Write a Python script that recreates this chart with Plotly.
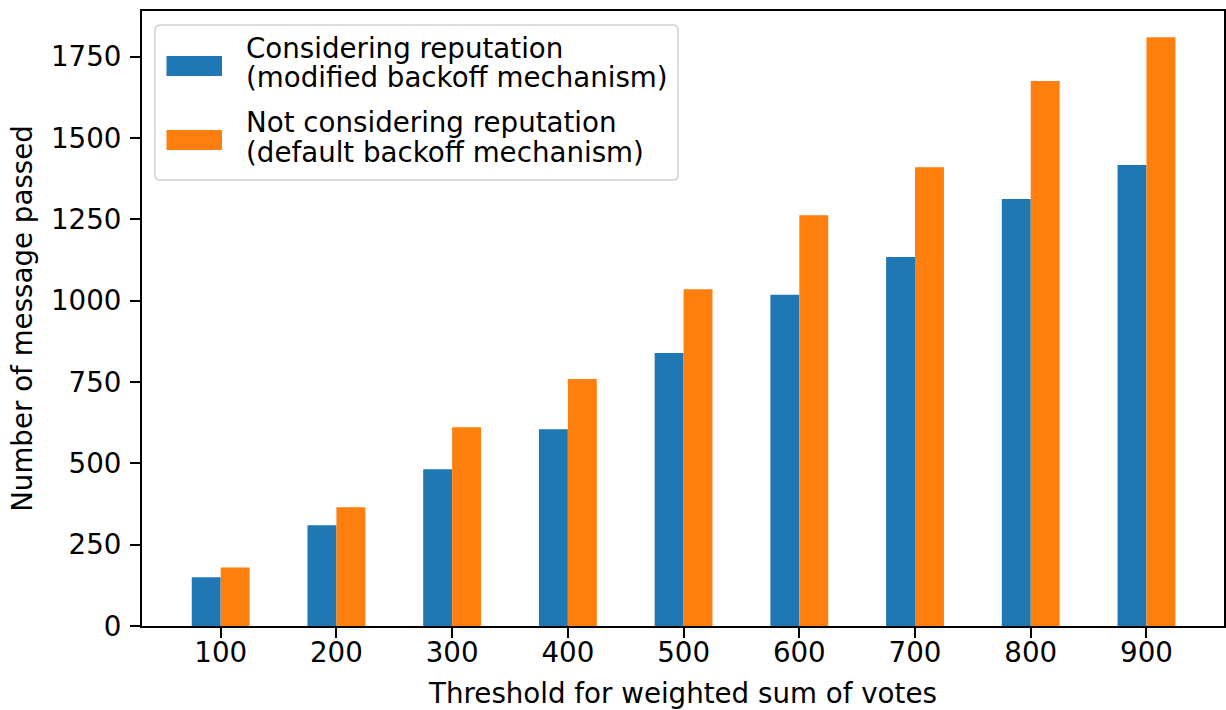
import plotly.graph_objects as go

thresholds = ["100", "200", "300", "400", "500", "600", "700", "800", "900"]
with_reputation = [150, 310, 482, 605, 839, 1018, 1134, 1312, 1417]
without_reputation = [180, 365, 611, 759, 1035, 1262, 1410, 1675, 1809]
y_ticks = [0, 250, 500, 750, 1000, 1250, 1500, 1750]

legend_lines_a = ["Considering reputation", "(modified backoff mechanism)"]
legend_lines_b = ["Not considering reputation", "(default backoff mechanism)"]
colors = ["#1f77b4", "#ff7f0e"]

W, H = 1226, 710
L, R, T, B = 142, 2, 11, 84
PW, PH = W - L - R, H - T - B
FS = 27.7
FONT = "DejaVu Sans"

def px2x(px):
    return (px - L) / PW

def px2y(py):
    return (H - B - py) / PH

fig = go.Figure()
fig.add_trace(go.Bar(x=thresholds, y=with_reputation, name=" ".join(legend_lines_a),
                     marker=dict(color=colors[0], line=dict(width=0)), showlegend=False))
fig.add_trace(go.Bar(x=thresholds, y=without_reputation, name=" ".join(legend_lines_b),
                     marker=dict(color=colors[1], line=dict(width=0)), showlegend=False))

# custom legend (matplotlib-like)
x0, x1, y0, y1 = px2x(155), px2x(678), px2y(180), px2y(25)
rx, ry = 5 / PW, 5 / PH
path = (f"M {x0+rx},{y0} L {x1-rx},{y0} Q {x1},{y0} {x1},{y0+ry} "
        f"L {x1},{y1-ry} Q {x1},{y1} {x1-rx},{y1} L {x0+rx},{y1} "
        f"Q {x0},{y1} {x0},{y1-ry} L {x0},{y0+ry} Q {x0},{y0} {x0+rx},{y0} Z")
shapes = [dict(type="path", xref="paper", yref="paper", path=path,
               fillcolor="rgba(255,255,255,0.8)", line=dict(color="#d0d0d0", width=1.5),
               layer="above")]
annotations = []
entries = [(legend_lines_a, colors[0], 56, [48, 77.5]),
           (legend_lines_b, colors[1], 130, [122.5, 152])]
for lines, col, sw_top, line_y in entries:
    shapes.append(dict(type="rect", xref="paper", yref="paper",
                       x0=px2x(166.5), x1=px2x(222), y0=px2y(sw_top + 20), y1=px2y(sw_top),
                       fillcolor=col, line=dict(width=0), layer="above"))
    for txt, ly in zip(lines, line_y):
        annotations.append(dict(text=txt, xref="paper", yref="paper",
                                x=px2x(244), y=px2y(ly), xanchor="left", yanchor="middle",
                                showarrow=False, font=dict(family=FONT, size=FS, color="black")))

fig.update_layout(
    width=W, height=H,
    margin=dict(l=L, r=R, t=T, b=B, autoexpand=False),
    plot_bgcolor="white", paper_bgcolor="white",
    barmode="group", bargap=0.5, bargroupgap=0,
    font=dict(family=FONT, size=FS, color="black"),
    showlegend=False,
    shapes=shapes, annotations=annotations,
)
fig.update_xaxes(
    type="category", range=[-0.68, 8.67], automargin=False,
    showline=True, linecolor="black", linewidth=2, mirror=True,
    ticks="outside", ticklen=10, tickwidth=2, tickcolor="black",
    ticklabelstandoff=-9,
    showgrid=False, zeroline=False,
    title=dict(text="Threshold for weighted sum of votes", standoff=37,
               font=dict(family=FONT, size=FS, color="black")),
)
fig.update_yaxes(
    range=[0, 1890], tickvals=y_ticks, ticktext=[str(v) for v in y_ticks],
    automargin=False,
    showline=True, linecolor="black", linewidth=2, mirror=True,
    ticks="outside", ticklen=10, tickwidth=2, tickcolor="black",
    ticklabelstandoff=3,
    showgrid=False, zeroline=False,
    title=dict(text="Number of message passed", standoff=10,
               font=dict(family=FONT, size=FS, color="black")),
)
fig.write_html("out.html", config={"displayModeBar": False},
               post_script="document.body.style.margin='0';document.body.style.padding='0';")
